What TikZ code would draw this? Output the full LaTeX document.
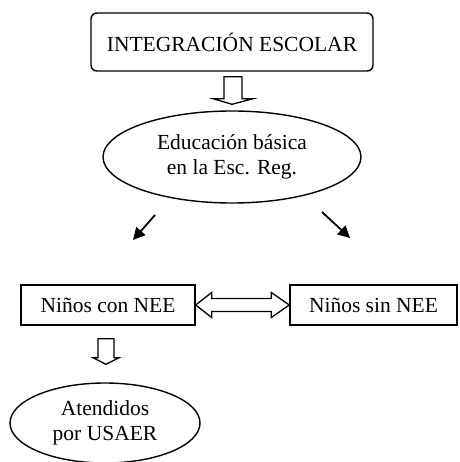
\documentclass[tikz,border=0pt]{standalone}
\usepackage{fontspec}
\setmainfont{Liberation Serif}
\usetikzlibrary{shapes.geometric,calc,arrows.meta}
\begin{document}
\begin{tikzpicture}[x=1pt,y=-1pt,
  txt/.style={font=\fontsize{21.5}{25}\selectfont, align=center, inner sep=0pt},
  boxA/.style={draw, line width=1.4pt, rounded corners=6pt, minimum width=282pt, minimum height=58pt, txt},
  boxB/.style={draw, line width=1.4pt, minimum height=40pt, txt},
  ell/.style={draw, ellipse, line width=1.4pt, txt},
  blk/.style={draw, line width=1.3pt, fill=white, line join=miter},
  thinarr/.style={line width=1.8pt, -{Triangle[length=12pt,width=12pt]}}
]
\useasboundingbox (0,0) rectangle (459,462);
\node[boxA] (top) at (232,42) {INTEGRACIÓN ESCOLAR};
\node[ell, minimum width=258pt, minimum height=92pt] (edu) at (232,157) {Educación básica\\en la Esc. Reg.};
\node[boxB, minimum width=174pt] (con) at (108,305) {Niños con NEE};
\node[boxB, minimum width=167pt] (sin) at (373.5,305) {Niños sin NEE};
\node[ell, minimum width=190pt, minimum height=80pt] (usa) at (105,423) {Atendidos\\por USAER};
% block arrow top -> edu
\draw[blk] ($(top.south)+(-8,5)$) -- ++(0,22) -- ++(-11,0) -- ($(edu.north)+(0,-6)$) -- ($(top.south)+(21,27)$) -- ++(-11,0) -- ++(0,-22) -- cycle;
% thin arrows
\coordinate (l1) at (155,215); \coordinate (l2) at (133,240);
\coordinate (r1) at (322,212); \coordinate (r2) at (350,238);
\draw[thinarr] (l1) -- (l2);
\draw[thinarr] (r1) -- (r2);
% double block arrow
\draw[blk] (con.east) -- ++(16,-12.5) -- ++(0,6) -- ($(sin.west)+(-18,-6.5)$) -- ++(0,-6) -- (sin.west) -- ++(-18,12.5) -- ++(0,-6) -- ($(con.east)+(16,6.5)$) -- ++(0,6) -- cycle;
% block arrow con -> usa
\draw[blk] ($(con.south)+(-10,13)$) -- ++(0,19) -- ++(-5,0) -- ($(usa.north)+(1,-18)$) -- ($(con.south)+(11,32)$) -- ++(-5,0) -- ++(0,-19) -- cycle;
\end{tikzpicture}
\end{document}
